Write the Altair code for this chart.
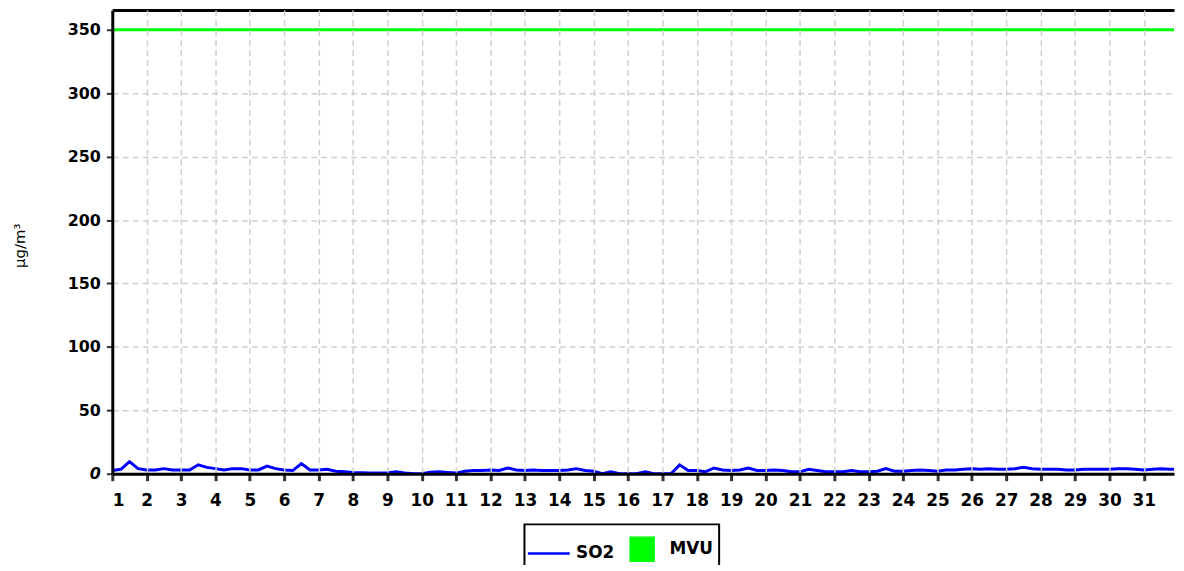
import altair as alt
import pandas as pd

# SO2 readings, 4 samples per day (00, 06, 12, 18 h), days 1..31, then the last reading
so2_day_values = [
    [2.5, 3.5, 9.5, 4], [3, 3, 4, 3], [3, 3, 7, 5], [4, 3, 4, 4], [3, 3, 6, 4],
    [3, 2.5, 8, 3], [3, 3.5, 2, 1.5], [1, 0.8, 0.5, 0.5], [0.5, 1.5, 0.5, 0], [0, 1.2, 1.5, 1],
    [0.5, 2, 2.5, 2.5], [3, 2.5, 4.5, 3], [2.5, 3, 2.5, 2.5], [2.5, 3, 4, 2.5], [2, 0, 1.5, 0],
    [0, 0, 1.5, 0], [0, 0, 7, 2.5], [2.5, 1.5, 4.5, 3], [2.5, 3, 4.5, 2.5], [2.5, 3, 2.5, 1.5],
    [1.5, 3.5, 2.5, 1.5], [1.5, 1.5, 2.5, 1.5], [1.5, 2, 4, 2], [2, 2.5, 3, 2.5], [2, 3, 3, 3.5],
    [4, 3.5, 4, 3.5], [3.5, 4, 5, 4], [3.5, 3.5, 3.5, 3], [3, 3.5, 3.5, 3.5], [3.5, 4, 4, 3.5],
    [3, 3.5, 4, 3.5],
]
so2_last_time = 31.88
so2_last_value = 3.5
mvu_limit = 350
day_ticks = list(range(1, 32))
y_ticks = [0, 50, 100, 150, 200, 250, 300, 350]
series_names = ["SO2", "MVU"]
series_colors = ["#0000ff", "#00ff00"]

times, vals = [], []
for i, day in enumerate(so2_day_values):
    for k, v in enumerate(day):
        times.append(1 + i + k / 4)
        vals.append(v)
times.append(so2_last_time)
vals.append(so2_last_value)
so2_df = pd.DataFrame({"day": times, "value": vals})
mvu_df = pd.DataFrame({"value": [mvu_limit]})
legend_df = pd.DataFrame({"series": series_names, "day": [1, 1], "value": [-100, -100]})

FONT = "DejaVu Sans"
xscale = alt.Scale(domain=[1, 31.88], nice=False, zero=False)
yscale = alt.Scale(domain=[0, 365.7], nice=False)

y_axis = alt.Axis(
    values=y_ticks, title="µg/m³", titleFont=FONT, titleFontSize=15,
    titleFontWeight="normal", titleColor="black", titleX=-93, titleY=237,
    titleAngle=270, titleAlign="center", titleBaseline="middle",
    labelFont=FONT, labelFontSize=16, labelFontWeight="bold", labelColor="black",
    labelFontStyle={"condition": {"test": "datum.value == 0", "value": "italic"}, "value": "normal"},
    labelPadding=6, tickSize=6, tickWidth=2, tickColor="#333333",
    domainColor="black", domainWidth=3, zindex=1,
    grid=True, gridColor="#cfcfcf", gridDash=[6, 4], gridWidth=1.5,
    gridOpacity={"condition": {"test": "datum.value == 350", "value": 0}, "value": 1})

line = alt.Chart(so2_df).mark_line(color="#0000ff", strokeWidth=3, clip=True).encode(
    x=alt.X("day:Q", scale=xscale, axis=alt.Axis(
        values=day_ticks, title=None, format="d", orient="bottom",
        labelFont=FONT, labelFontSize=17, labelFontWeight="bold", labelColor="black",
        labelPadding=12, tickSize=7, tickWidth=3, tickColor="#333333",
        domainColor="black", domainWidth=3, zindex=1,
        grid=True, gridColor="#cfcfcf", gridDash=[6, 4], gridWidth=1.5)),
    y=alt.Y("value:Q", scale=yscale, axis=y_axis),
)

rule = alt.Chart(mvu_df).mark_rule(color="#00ff00", strokeWidth=3).encode(
    y=alt.Y("value:Q", scale=yscale, axis=y_axis),
)

legend = alt.Legend(
    title=None, orient="none", legendX=415, legendY=518, direction="horizontal",
    strokeColor="black", padding=6, symbolSize=1156, symbolStrokeWidth=2.5,
    labelFont=FONT, labelFontSize=17, labelFontWeight="bold", labelColor="black",
    labelOffset=9, columnPadding=9,
)
line_path = "M-1.24,0H1.24"
square_path = "M-0.68,-0.68H0.68V0.68H-0.68Z"
pts = alt.Chart(legend_df).mark_point(filled=True, clip=True, opacity=1).encode(
    x=alt.X("day:Q", scale=xscale, axis=alt.Axis(
        orient="top", labels=False, ticks=False, grid=False, title=None,
        domainColor="black", domainWidth=3)),
    y=alt.Y("value:Q", scale=yscale, axis=y_axis),
    shape=alt.Shape("series:N", scale=alt.Scale(domain=series_names, range=[line_path, square_path]), legend=legend),
    fill=alt.Fill("series:N", scale=alt.Scale(domain=series_names, range=series_colors), legend=legend),
    stroke=alt.Stroke("series:N", scale=alt.Scale(domain=series_names, range=series_colors), legend=legend),
)

chart = alt.layer(line, rule, pts).resolve_axis(x="independent").properties(
    width=1069, height=467,
    autosize=alt.AutoSizeParams(type="none"),
    padding={"left": 105, "top": 0, "right": 2, "bottom": 90},
).configure_view(stroke=None).configure_legend(strokeWidth=2)

chart.save("out.html", embed_options={"renderer": "svg", "actions": False})
